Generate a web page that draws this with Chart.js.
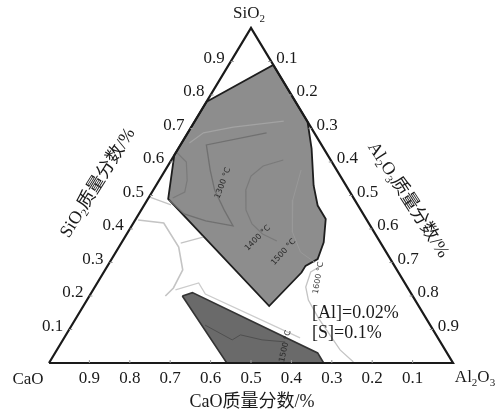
<!DOCTYPE html>
<html>
<head>
<meta charset="utf-8">
<script src="https://cdn.jsdelivr.net/npm/chart.js@4.4.1/dist/chart.umd.min.js"></script>
<style>
  html, body { margin: 0; padding: 0; background: #fff; }
  #wrap { width: 500px; height: 412px; }
</style>
</head>
<body>
<div id="wrap"><canvas id="ternary" width="500" height="412"></canvas></div>
<script>
// Compositions are mass fractions, CaO = 1 - SiO2 - Al2O3
const tickValues = [0.1, 0.2, 0.3, 0.4, 0.5, 0.6, 0.7, 0.8, 0.9];

// liquid region (light grey)
const upperSiO2  = [0.78, 0.89, 0.72, 0.64, 0.53, 0.47, 0.43, 0.36, 0.31, 0.29, 0.27, 0.17, 0.49, 0.62, 0.78];
const upperAl2O3 = [0.00, 0.11, 0.28, 0.33, 0.39, 0.43, 0.47, 0.50, 0.51, 0.49, 0.49, 0.46, 0.05, 0.00, 0.00];

// second region near the CaO-Al2O3 side (dark grey)
const lowerSiO2  = [0.20, 0.21, 0.03, 0.00, 0.00, 0.20];
const lowerAl2O3 = [0.23, 0.25, 0.65, 0.68, 0.44, 0.23];

// isotherms inside the regions
const iso1300SiO2  = [0.687, 0.651, 0.576, 0.516, 0.457, 0.409, 0.424, 0.445, 0.487];
const iso1300Al2O3 = [0.195, 0.064, 0.111, 0.152, 0.205, 0.251, 0.176, 0.112, 0.054];
const isoTopSiO2   = [0.722, 0.704, 0.687, 0.657];
const isoTopAl2O3  = [0.220, 0.104, 0.039, 0.019];
const iso1400SiO2  = [0.606, 0.588, 0.558, 0.516, 0.457, 0.415, 0.385, 0.364];
const iso1400Al2O3 = [0.277, 0.236, 0.221, 0.229, 0.259, 0.295, 0.336, 0.382];
const iso1500SiO2  = [0.576, 0.487, 0.391, 0.331, 0.301];
const iso1500Al2O3 = [0.336, 0.360, 0.407, 0.457, 0.507];
const isoLeftSiO2  = [0.63, 0.60, 0.546, 0.51, 0.4925];
const isoLeftAl2O3 = [0.00, 0.04, 0.069, 0.081, 0.06];
const isoLowSiO2   = [0.113, 0.069, 0.084, 0.069, 0.063];
const isoLowAl2O3  = [0.330, 0.419, 0.432, 0.493, 0.553];

// faint lines in the white area
const iso1600SiO2  = [0.2925, 0.2716, 0.227, 0.188, 0.134, 0.039, 0.003];
const iso1600Al2O3 = [0.531, 0.512, 0.522, 0.548, 0.600, 0.701, 0.752];
const arcSiO2      = [0.427, 0.418, 0.346, 0.278, 0.224, 0.200];
const arcAl2O3     = [0.007, 0.075, 0.148, 0.192, 0.196, 0.188];
const stubASiO2    = [0.496, 0.472];
const stubAAl2O3   = [0.000, 0.066];
const stubBSiO2    = [0.358, 0.376];
const stubBAl2O3   = [0.147, 0.193];
const ridgeSiO2    = [0.218, 0.239, 0.206, 0.075];
const ridgeAl2O3   = [0.204, 0.251, 0.284, 0.584];

// triangle corners: CaO, Al2O3, SiO2
const frameSiO2  = [0, 0, 1, 0];
const frameAl2O3 = [0, 1, 0, 0];

// ternary -> cartesian
function toXY(s, a) {
    return { x: a + s / 2, y: s };
}
function series(sArr, aArr) {
    return sArr.map((s, i) => toXY(s, aArr[i]));
}

function lineSet(sArr, aArr, color, width, extra) {
    return Object.assign({
        data: series(sArr, aArr),
        showLine: true,
        pointRadius: 0,
        borderColor: color,
        borderWidth: width,
        backgroundColor: 'transparent',
        fill: false,
        clip: false,
        tension: 0
    }, extra || {});
}

const SERIF = '"Liberation Serif", "Noto Sans CJK SC", serif';

// text with subscripts; parts = [[text, isSub], ...]
function drawRich(ctx, parts, x, y, size, align) {
    const main = size + 'px ' + SERIF;
    const sub = Math.round(size * 0.62) + 'px ' + SERIF;
    let w = 0;
    parts.forEach(([t, s]) => { ctx.font = s ? sub : main; w += ctx.measureText(t).width; });
    let cx = align === 'center' ? x - w / 2 : align === 'right' ? x - w : x;
    ctx.textAlign = 'left';
    ctx.textBaseline = 'middle';
    parts.forEach(([t, s]) => {
        ctx.font = s ? sub : main;
        ctx.fillText(t, cx, s ? y + size * 0.3 : y);
        cx += ctx.measureText(t).width;
    });
}

const ternaryText = {
    id: 'ternaryText',
    afterDraw(chart) {
        const ctx = chart.ctx;
        const xs = chart.scales.x, ys = chart.scales.y;
        const px = (s, a) => {
            const p = toXY(s, a);
            return [xs.getPixelForValue(p.x), ys.getPixelForValue(p.y)];
        };
        ctx.save();

        // small tick marks on the edges
        ctx.strokeStyle = '#9a9a9a';
        ctx.lineWidth = 1;
        tickValues.forEach(v => {
            let [x, y] = px(0, 1 - v);           // base
            ctx.beginPath(); ctx.moveTo(x, y); ctx.lineTo(x, y - 3); ctx.stroke();
            [x, y] = px(v, 0);                    // left edge
            ctx.beginPath(); ctx.moveTo(x, y); ctx.lineTo(x + 3, y); ctx.stroke();
            [x, y] = px(1 - v, v);                // right edge
            ctx.beginPath(); ctx.moveTo(x, y); ctx.lineTo(x - 3, y); ctx.stroke();
        });

        ctx.fillStyle = '#1a1a1a';
        ctx.font = '17px ' + SERIF;
        ctx.textBaseline = 'middle';
        tickValues.forEach(v => {
            const label = v.toFixed(1);
            let [x, y] = px(0, 1 - v);
            ctx.textAlign = 'center';
            ctx.fillText(label, x, y + 16);
            [x, y] = px(v, 0);
            ctx.textAlign = 'right';
            ctx.fillText(label, x - 6, y - 3);
            [x, y] = px(1 - v, v);
            ctx.textAlign = 'left';
            ctx.fillText(label, x + 5, y - 3);
        });

        // corner names
        let [x0, y0] = px(0, 0);
        drawRich(ctx, [['CaO', false]], x0 - 21, y0 + 17, 17, 'center');
        [x0, y0] = px(0, 1);
        drawRich(ctx, [['Al', false], ['2', true], ['O', false], ['3', true]], x0 + 22, y0 + 15, 17, 'center');
        [x0, y0] = px(1, 0);
        drawRich(ctx, [['SiO', false], ['2', true]], x0 - 2, y0 - 14, 17, 'center');

        // axis titles
        drawRich(ctx, [['CaO质量分数/%', false]], 252, 402, 18, 'center');
        ctx.save();
        ctx.translate(98, 183);
        ctx.rotate(-58 * Math.PI / 180);
        drawRich(ctx, [['SiO', false], ['2', true], ['质量分数/%', false]], 0, 0, 18, 'center');
        ctx.restore();
        ctx.save();
        ctx.translate(408, 200);
        ctx.rotate(57 * Math.PI / 180);
        drawRich(ctx, [['Al', false], ['2', true], ['O', false], ['3', true], ['质量分数/%', false]], 0, 0, 18, 'center');
        ctx.restore();

        // conditions
        drawRich(ctx, [['[Al]=0.02%', false]], 312, 313, 18, 'left');
        drawRich(ctx, [['[S]=0.1%', false]], 312, 333, 18, 'left');

        // isotherm labels
        const isoLabels = [
            ['1300 °C', 0.537, 0.162, -70, '#2a2a2a'],
            ['1400 °C', 0.373, 0.330, -45, '#2a2a2a'],
            ['1500 °C', 0.331, 0.415, -48, '#2a2a2a'],
            ['1600 °C', 0.254, 0.540, -80, '#444'],
            ['1500 °C', 0.050, 0.560, -78, '#2a2a2a']
        ];
        ctx.font = '8px "DejaVu Sans", sans-serif';
        ctx.textAlign = 'center';
        isoLabels.forEach(([t, s, a, rot, col]) => {
            const [x, y] = px(s, a);
            ctx.save();
            ctx.translate(x, y);
            ctx.rotate(rot * Math.PI / 180);
            ctx.fillStyle = col;
            ctx.fillText(t, 0, 0);
            ctx.restore();
        });
        ctx.restore();
    }
};

function initializeChart() {
    const ctx = document.getElementById('ternary').getContext('2d');
    new Chart(ctx, {
        type: 'scatter',
        data: {
            datasets: [
                lineSet(frameSiO2, frameAl2O3, '#1a1a1a', 2.2, { borderJoinStyle: 'miter' }),
                lineSet(isoLowSiO2, isoLowAl2O3, '#4f4f4f', 1),
                lineSet(iso1300SiO2, iso1300Al2O3, '#707070', 1.3),
                lineSet(isoTopSiO2, isoTopAl2O3, '#a3a3a3', 1.2),
                lineSet(iso1400SiO2, iso1400Al2O3, '#7a7a7a', 1.2),
                lineSet(iso1500SiO2, iso1500Al2O3, '#999999', 1),
                lineSet(isoLeftSiO2, isoLeftAl2O3, '#7a7a7a', 1.2),
                lineSet(iso1600SiO2, iso1600Al2O3, '#c4c4c4', 1.3),
                lineSet(arcSiO2, arcAl2O3, '#c4c4c4', 1.6),
                lineSet(stubASiO2, stubAAl2O3, '#c4c4c4', 1.3),
                lineSet(stubBSiO2, stubBAl2O3, '#c4c4c4', 1.3),
                lineSet(ridgeSiO2, ridgeAl2O3, '#cccccc', 1.3),
                lineSet(upperSiO2, upperAl2O3, '#1e1e1e', 1.8, { fill: 'shape', backgroundColor: '#8d8d8d' }),
                lineSet(lowerSiO2, lowerAl2O3, '#333333', 1.6, { fill: 'shape', backgroundColor: '#6a6a6a' })
            ]
        },
        options: {
            responsive: false,
            animation: false,
            layout: { padding: { left: 49, right: 47, top: 28, bottom: 49 } },
            scales: {
                x: { type: 'linear', min: 0, max: 1, display: false },
                y: { type: 'linear', min: 0, max: 1, display: false }
            },
            plugins: {
                legend: { display: false },
                tooltip: { enabled: false }
            }
        },
        plugins: [ternaryText]
    });
}

document.addEventListener('DOMContentLoaded', initializeChart);
</script>
</body>
</html>
